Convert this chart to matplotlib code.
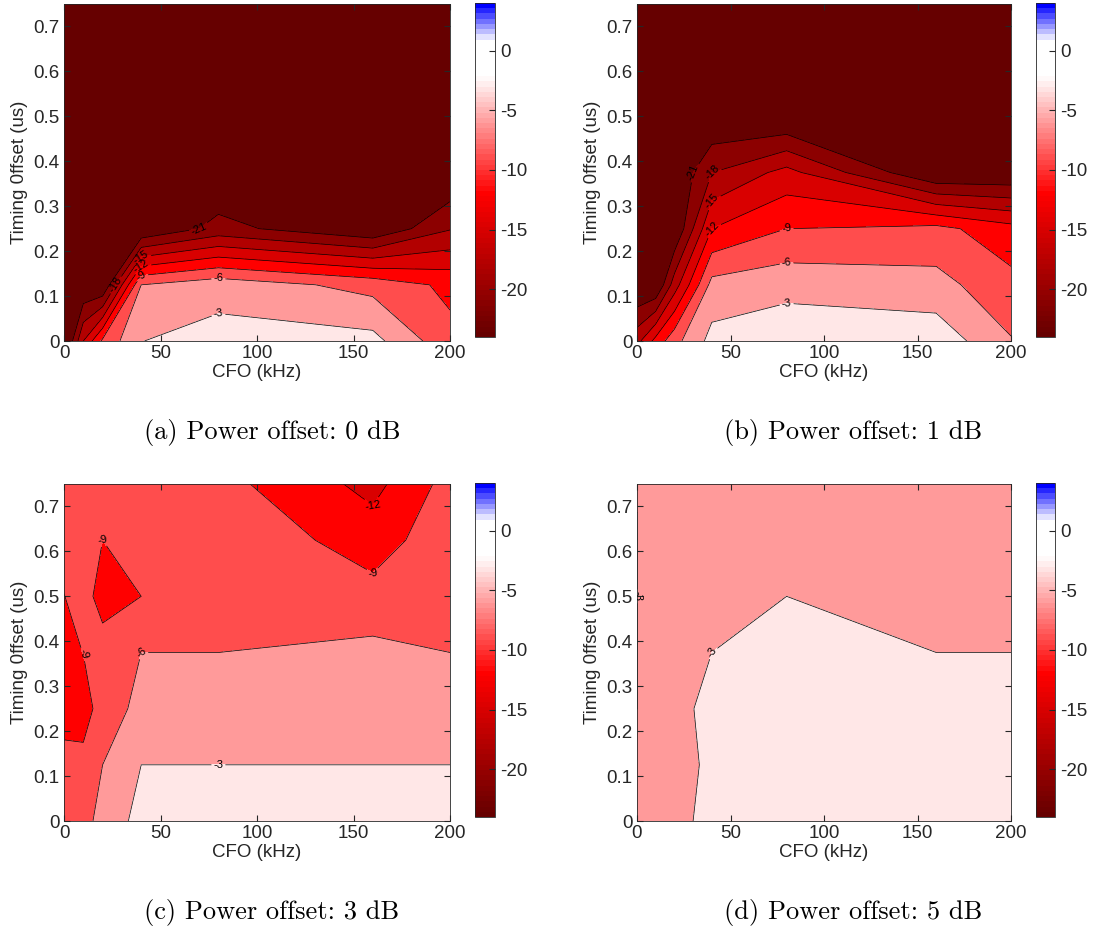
import numpy as np
import matplotlib
matplotlib.use('Agg')
import matplotlib.pyplot as plt
from matplotlib.colors import LinearSegmentedColormap, Normalize
from matplotlib.cm import ScalarMappable

plt.rcParams['font.family'] = ['Liberation Sans', 'DejaVu Sans']
plt.rcParams['axes.unicode_minus'] = False
plt.rcParams['contour.negative_linestyle'] = 'solid'

# grid of the measurement
cfo = [0, 10, 20, 40, 80, 160, 200]            # kHz
timing = [0, 0.125, 0.25, 0.375, 0.5, 0.625, 0.75]  # us

# values in dB, one row per timing offset (bottom to top), one column per CFO
sir_0db = [
    [-25.7, -15.0, -8.4, -3.05, -1.85, -2.05, -8.14],
    [-27.0, -24.0, -24.15, -6.0, -4.2, -7.05, -9.7],
    [-28.0, -27.0, -26.0, -24.0, -20.0, -23.8, -18.2],
    [-29.0, -28.0, -28.0, -26.0, -23.9, -25.0, -24.0],
    [-30.0, -30.0, -30.0, -30.0, -30.0, -30.0, -30.0],
    [-30.0, -30.0, -30.0, -30.0, -30.0, -30.0, -30.0],
    [-30.0, -30.0, -30.0, -30.0, -30.0, -30.0, -30.0],
]
sir_1db = [
    [-16.0, -11.0, -7.0, -2.0, -0.81, -1.06, -5.8],
    [-24.3, -24.2, -16.5, -5.0, -4.07, -4.97, -8.07],
    [-27.0, -26.0, -24.0, -12.0, -9.0, -8.1, -10.9],
    [-28.0, -27.0, -24.0, -18.0, -14.0, -24.1, -23.9],
    [-29.0, -28.0, -27.0, -24.0, -24.3, -26.0, -26.0],
    [-30.0, -30.0, -30.0, -30.0, -30.0, -30.0, -30.0],
    [-30.0, -30.0, -30.0, -30.0, -30.0, -30.0, -30.0],
]
sir_3db = [
    [-7.5, -7.0, -5.0, -2.0, -1.8, -1.8, -1.8],
    [-8.2, -8.0, -6.0, -3.0, -3.0, -3.0, -3.0],
    [-10.0, -10.5, -7.5, -5.2, -4.5, -4.5, -4.8],
    [-10.0, -8.95, -7.9, -6.0, -6.0, -5.2, -6.0],
    [-9.05, -8.0, -10.0, -9.0, -7.5, -7.94, -7.5],
    [-8.0, -8.0, -9.0, -8.0, -6.5, -10.49, -7.0],
    [-8.0, -8.0, -8.0, -8.0, -7.98, -12.94, -7.87],
]
sir_5db = [
    [-4.0, -3.8, -3.6, -2.4, -2.0, -2.0, -2.0],
    [-3.5, -3.8, -3.6, -2.7, -2.0, -2.0, -2.0],
    [-2.99, -3.8, -3.6, -2.45, -2.0, -2.0, -2.0],
    [-2.99, -3.8, -3.0, -3.0, -2.5, -3.0, -3.0],
    [-2.99, -4.0, -4.0, -4.0, -3.0, -4.0, -4.0],
    [-2.99, -4.0, -4.0, -4.0, -4.0, -4.0, -4.0],
    [-3.01, -3.01, -3.01, -3.01, -4.0, -4.0, -4.0],
]
captions = ['(a) Power offset: 0 dB', '(b) Power offset: 1 dB',
            '(c) Power offset: 3 dB', '(d) Power offset: 5 dB']
levels = [-21, -18, -15, -12, -9, -6, -3]
cbar_ticks = [-20, -15, -10, -5, 0]

# colormap: dark red -> red -> white -> blue, like the matlab one
cmin, cmax = -24, 4
anchors = [(-24, (0.4, 0, 0)), (-12, (1, 0, 0)), (-2, (1, 1, 1)),
           (1, (1, 1, 1)), (4, (0, 0, 1))]
pts = [((v - cmin) / (cmax - cmin), c) for v, c in anchors]
cmap_smooth = LinearSegmentedColormap.from_list('rwb', pts, N=512)
cmap_bar = LinearSegmentedColormap.from_list('rwb64', pts, N=64)
norm = Normalize(cmin, cmax)

# matlab fills a band with the colour of its lower level
bounds = [-100] + levels + [0, 100]
band_colors = [cmap_smooth(norm(max(lo, cmin))) for lo in bounds[:-1]]

W, H = 1108, 933
fig = plt.figure(figsize=(W / 100, H / 100), dpi=100)

# pixel boxes (left, top, right, bottom)
ax_boxes = [(64, 4, 450, 341), (637, 4, 1011, 341),
            (64, 484, 450, 821), (637, 484, 1011, 821)]
cb_boxes = [(475, 3, 495, 337), (1036, 3, 1055, 337),
            (475, 483, 495, 817), (1036, 483, 1055, 817)]
cap_pos = [(272, 433), (853, 433), (272, 912), (853, 912)]

def fbox(b):
    l, t, r, btm = b
    return [l / W, (H - btm) / H, (r - l) / W, (btm - t) / H]

X, Y = np.meshgrid(cfo, timing)
grey = (0.15, 0.15, 0.15)

for i, Z in enumerate([sir_0db, sir_1db, sir_3db, sir_5db]):
    Z = np.array(Z)
    ax = fig.add_axes(fbox(ax_boxes[i]))
    ax.contourf(X, Y, Z, levels=bounds, colors=band_colors)
    cs = ax.contour(X, Y, Z, levels=levels, colors='k', linewidths=0.5)
    ax.clabel(cs, fmt='%d', fontsize=8, inline=True, inline_spacing=2)
    ax.set_xlim(0, 200)
    ax.set_ylim(0, 0.75)
    ax.set_xticks([0, 50, 100, 150, 200])
    ax.set_yticks([0, 0.1, 0.2, 0.3, 0.4, 0.5, 0.6, 0.7])
    ax.set_yticklabels(['0', '0.1', '0.2', '0.3', '0.4', '0.5', '0.6', '0.7'])
    ax.tick_params(direction='in', top=True, right=True, length=4,
                   labelsize=13.5, colors=grey, pad=3)
    for s in ax.spines.values():
        s.set_color(grey)
        s.set_linewidth(0.6)
    ax.set_xlabel('CFO (kHz)', fontsize=13.5, color=grey, labelpad=1)
    ax.set_ylabel('Timing 0ffset (us)', fontsize=13.5, color=grey, labelpad=4)

    cax = fig.add_axes(fbox(cb_boxes[i]))
    cb = fig.colorbar(ScalarMappable(norm=norm, cmap=cmap_bar), cax=cax,
                      ticks=cbar_ticks)
    cb.ax.tick_params(direction='in', length=4, labelsize=13.5, colors=grey)
    cb.outline.set_edgecolor(grey)
    cb.outline.set_linewidth(0.6)

    fig.text(cap_pos[i][0] / W, (H - cap_pos[i][1]) / H, captions[i],
             family='cmr10', fontsize=19, ha='center', va='center')

fig.savefig('out.png', dpi=100)
